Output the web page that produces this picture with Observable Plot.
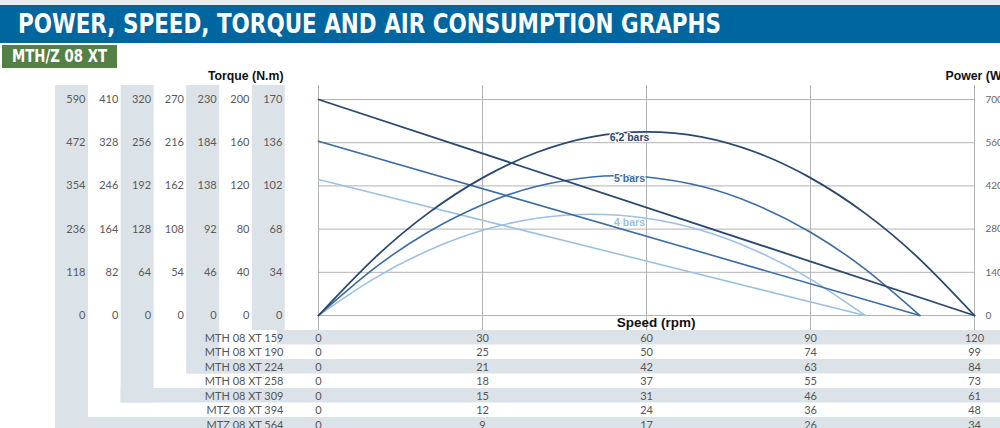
<!DOCTYPE html>
<html>
<head>
<meta charset="utf-8">
<script src="https://cdn.jsdelivr.net/npm/d3@7"></script>
<script src="https://cdn.jsdelivr.net/npm/@observablehq/plot@0.6"></script>
<style>
  html, body { margin: 0; padding: 0; background: #fff; width: 1000px; height: 428px; overflow: hidden; }
  #strip { height: 5px; background: #e9eef2; }
  #title { height: 38px; background: #0066a0; position: relative; overflow: hidden; }
  #title span { position: absolute; left: 18px; top: 4px; color: #fff; font-family: "DejaVu Sans Condensed", "DejaVu Sans", sans-serif; font-weight: bold; font-size: 27px; line-height: 30px; white-space: nowrap; transform-origin: 0 0; }
  #sub { height: 23px; margin-top: 2px; margin-left: 2px; width: 115px; background: #548046; position: relative; overflow: hidden; }
  #sub span { position: absolute; left: 10px; top: 2px; color: #fff; font-family: "DejaVu Sans Condensed", "DejaVu Sans", sans-serif; font-weight: bold; font-size: 17px; line-height: 19px; white-space: nowrap; transform-origin: 0 0; }
  #chart { margin-top: 2px; height: 358px; }
  #chart svg { display: block; }
</style>
</head>
<body>
<div id="strip"></div>
<div id="title"><span id="titleText">POWER, SPEED, TORQUE AND AIR CONSUMPTION GRAPHS</span></div>
<div id="sub"><span id="subText">MTH/Z 08 XT</span></div>
<div id="chart"></div>
<script>
// ---------- data ----------
const powerTicks = [700, 560, 420, 280, 140, 0];
const speedTicks = [0, 30, 60, 90, 120];

const torqueCols = [
  [590, 472, 354, 236, 118, 0],
  [410, 328, 246, 164, 82, 0],
  [320, 256, 192, 128, 64, 0],
  [270, 216, 162, 108, 54, 0],
  [230, 184, 138, 92, 46, 0],
  [200, 160, 120, 80, 40, 0],
  [170, 136, 102, 68, 34, 0]
];

const models = ["MTH 08 XT 159", "MTH 08 XT 190", "MTH 08 XT 224", "MTH 08 XT 258", "MTH 08 XT 309", "MTZ 08 XT 394", "MTZ 08 XT 564"];
const speedRows = [
  [0, 30, 60, 90, 120],
  [0, 25, 50, 74, 99],
  [0, 21, 42, 63, 84],
  [0, 18, 37, 55, 73],
  [0, 15, 31, 46, 61],
  [0, 12, 24, 36, 48],
  [0, 9, 17, 26, 34]
];

const pressures = ["6,2 bars", "5 bars", "4 bars"];
const powerSpeed62 = [0, 10, 20, 30, 40, 50, 60, 70, 80, 90, 100, 110, 120];
const power62 = [0, 182, 331, 446, 529, 579, 595, 579, 529, 446, 331, 182, 0];
const powerSpeed5 = [0, 10, 20, 30, 40, 50, 55, 60, 70, 80, 90, 100, 110];
const power5 = [0, 150, 270, 359, 419, 449, 453, 449, 419, 359, 270, 150, 0];
const powerSpeed4 = [0, 10, 20, 30, 40, 50, 60, 70, 80, 90, 100];
const power4 = [0, 118, 210, 276, 315, 328, 315, 276, 210, 118, 0];
const torqueSpeed = [[0, 120], [0, 110], [0, 100]];
const torqueLine = [[700, 0], [565, 0], [441, 0]];

const curveColors = ["#2a4870", "#3a6ca3", "#9dc1e4"];

// ---------- layout helpers (page px -> data units) ----------
const SVG_TOP = 70;
const X0 = 318, X1 = 974, Y700 = 99, Y0 = 315;
const xAt = px => (px - X0) * 120 / (X1 - X0);
const yAt = py => (Y0 - py) * 700 / (Y0 - Y700);

// ---------- build tables ----------
const colPitch = 32.8;
const colBands = [], rowBands = [];
torqueCols.forEach((c, k) => {
  if (k % 2 === 0) {
    const r = 6 - k;
    const left = 55 + colPitch * k;
    const rowTop = 330 + 14.5 * r;
    colBands.push({x1: xAt(left), x2: xAt(left + 33), y1: yAt(85), y2: yAt(k === 6 ? 330 : rowTop + 14.5)});
    rowBands.push({x1: xAt(k === 6 ? 277 : left), x2: xAt(1000), y1: yAt(rowTop), y2: yAt(rowTop + 14.5)});
  }
});
const bands = colBands.concat(rowBands);

const torqueText = [];
torqueCols.forEach((c, k) => c.forEach((v, i) => torqueText.push({x: xAt(85 + colPitch * k), y: powerTicks[i], t: String(v)})));

const modelText = models.map((m, r) => ({x: xAt(283), y: yAt(337.5 + 14.5 * r), t: m}));
const speedText = [];
speedRows.forEach((row, r) => row.forEach((v, j) => speedText.push({x: speedTicks[j], y: yAt(337.5 + 14.5 * r), t: String(v)})));

const powerSeries = [
  powerSpeed62.map((s, i) => ({s, p: power62[i], k: pressures[0]})),
  powerSpeed5.map((s, i) => ({s, p: power5[i], k: pressures[1]})),
  powerSpeed4.map((s, i) => ({s, p: power4[i], k: pressures[2]}))
];
const torqueSeries = torqueSpeed.map((sp, i) => sp.map((s, j) => ({s, p: torqueLine[i][j], k: pressures[i]})));

const labelY = [137, 178, 222];
const labels = pressures.map((p, i) => ({x: xAt(629), y: yAt(labelY[i]), t: p, c: curveColors[i]}));

const numFont = "Lato, 'Open Sans', sans-serif";
const boldFont = "'Liberation Sans', Arial, sans-serif";

const marks = [
  Plot.rect(bands, {x1: "x1", x2: "x2", y1: "y1", y2: "y2", fill: "#dce3e8"}),
  Plot.ruleY(powerTicks, {x1: 0, x2: 120, stroke: "#b3b3b3", strokeWidth: 1}),
  Plot.ruleX(speedTicks, {y1: yAt(330), y2: yAt(85), stroke: "#b3b3b3", strokeWidth: 1}),
  Plot.text(torqueText, {x: "x", y: "y", text: "t", textAnchor: "end", fill: "#5a5a5a", fontSize: 11, fontFamily: numFont}),
  Plot.text(modelText, {x: "x", y: "y", text: "t", textAnchor: "end", fill: "#555", fontSize: 11, fontFamily: numFont}),
  Plot.text(speedText, {x: "x", y: "y", text: "t", textAnchor: "middle", fill: "#555", fontSize: 11, fontFamily: numFont}),
  Plot.text(powerTicks, {x: 120, y: d => d, text: d => String(d), dx: 11, textAnchor: "start", fill: "#666", fontSize: 10, fontFamily: numFont}),
  Plot.text(["Torque (N.m)"], {x: xAt(283), y: yAt(76), text: d => d, textAnchor: "end", fill: "#111", fontWeight: "bold", fontSize: 12.3, fontFamily: boldFont}),
  Plot.text(["Power (W)"], {x: xAt(945), y: yAt(76), text: d => d, textAnchor: "start", fill: "#111", fontWeight: "bold", fontSize: 12.3, fontFamily: boldFont}),
  Plot.text(["Speed (rpm)"], {x: xAt(695), y: yAt(322), text: d => d, textAnchor: "end", fill: "#111", fontWeight: "bold", fontSize: 13.5, fontFamily: boldFont})
];
[2, 1, 0].forEach(i => {
  marks.push(Plot.line(powerSeries[i], {x: "s", y: "p", stroke: curveColors[i], strokeWidth: i === 0 ? 1.8 : 1.6, curve: "natural"}));
  marks.push(Plot.line(torqueSeries[i], {x: "s", y: "p", stroke: curveColors[i], strokeWidth: i === 0 ? 1.8 : 1.6}));
});
marks.push(Plot.text(labels, {x: "x", y: "y", text: "t", fill: "c", stroke: "white", strokeWidth: 2, fontWeight: "bold", fontSize: 10.5, fontFamily: boldFont}));

const chart = Plot.plot({
  width: 1000,
  height: 358,
  marginLeft: X0,
  marginRight: 1000 - X1,
  marginTop: Y700 - SVG_TOP,
  marginBottom: 358 - (Y0 - SVG_TOP),
  x: {domain: [0, 120], axis: null},
  y: {domain: [0, 700], axis: null},
  style: {background: "transparent", overflow: "hidden"},
  marks
});
document.getElementById("chart").appendChild(chart);

// fit title widths
function fit(id, w) {
  const el = document.getElementById(id);
  const cur = el.getBoundingClientRect().width;
  el.style.transform = `scaleX(${w / cur})`;
}
fit("titleText", 703);
fit("subText", 95);
</script>
</body>
</html>
